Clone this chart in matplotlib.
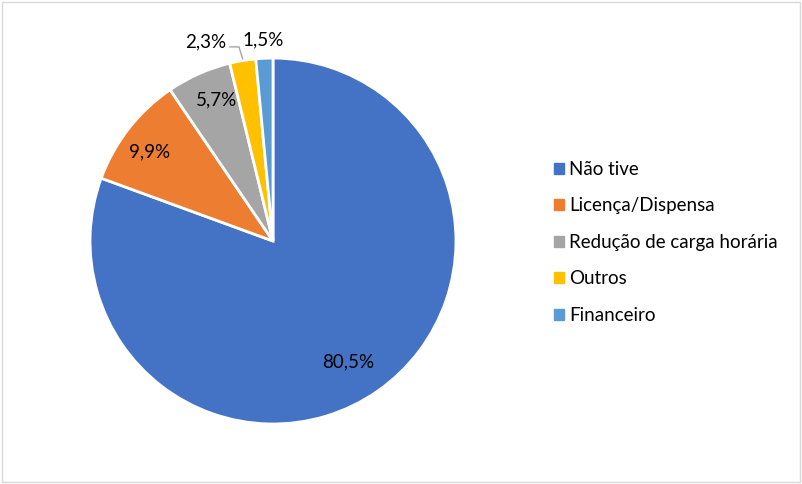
import numpy as np
import matplotlib.pyplot as plt
from matplotlib.patches import Rectangle

plt.rcParams['font.family'] = ['Lato', 'DejaVu Sans']

categories = ['Não tive', 'Licença/Dispensa', 'Redução de carga horária', 'Outros', 'Financeiro']
values = [80.5, 9.9, 5.7, 2.3, 1.5]
labels = ['80,5%', '9,9%', '5,7%', '2,3%', '1,5%']
colors = ['#4472C4', '#ED7D31', '#A5A5A5', '#FFC000', '#5B9BD5']

fig = plt.figure(figsize=(8.02, 4.84), dpi=100)
ax = fig.add_axes([0.1122, 0.124, 0.4564, 0.756])

wedges, _ = ax.pie(values, colors=colors, startangle=90, counterclock=False,
                   radius=1, wedgeprops=dict(edgecolor='white', linewidth=2))
ax.set_xlim(-1, 1)
ax.set_ylim(-1, 1)
ax.set_aspect('equal')

# label placement (distance, angle shift) roughly like Excel's best fit
dist = [0.78, 0.83, 0.83, 1.15, 1.1]
shift = [-3, 2, -2, 9, 0]
for w, lab, d, s in zip(wedges, labels, dist, shift):
    ang = np.deg2rad((w.theta1 + w.theta2) / 2 + s)
    ax.text(d * np.cos(ang), d * np.sin(ang), lab, ha='center', va='center',
            fontsize=13.5, color='#000000')

# leader line for the small "Outros" slice
w = wedges[3]
a = np.deg2rad((w.theta1 + w.theta2) / 2)
x0, y0 = 1.0 * np.cos(a), 1.0 * np.sin(a)
ax.plot([x0, x0 - 0.02, x0 - 0.07], [y0 + 0.01, y0 + 0.075, y0 + 0.075],
        color='#A5A5A5', lw=1, clip_on=False)

handles = [Rectangle((0, 0), 1, 1, color=c) for c in colors]
fig.legend(handles, categories, loc='center left', bbox_to_anchor=(0.670, 0.499),
           frameon=False, fontsize=13.5, handlelength=0.5, handleheight=0.5,
           handletextpad=0.3, labelspacing=1.04)

fig.patches.append(Rectangle((0.003, 0.004), 0.994, 0.992, transform=fig.transFigure,
                             fill=False, edgecolor='#D9D9D9', lw=1))

plt.savefig('out.png', dpi=100)
